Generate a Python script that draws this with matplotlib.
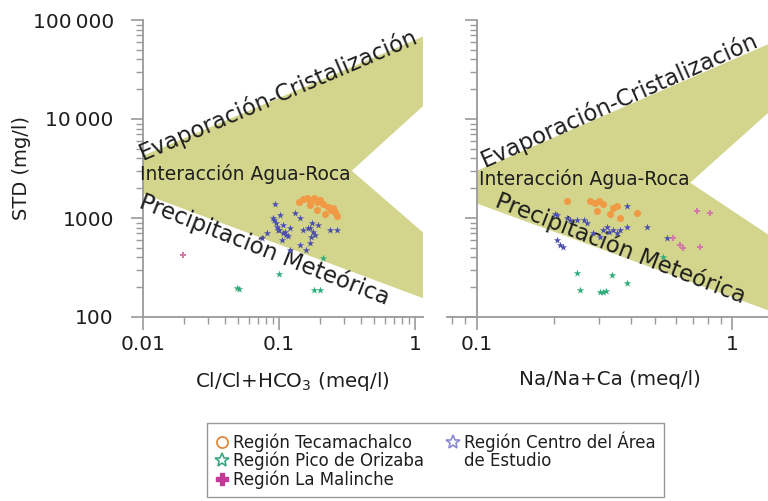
import matplotlib
matplotlib.use("Agg")
from matplotlib import pyplot as plt
from matplotlib.lines import Line2D

plt.rcParams['font.family'] = ['DejaVu Sans']
plt.rcParams['mathtext.fontset'] = 'dejavusans'

# ---- data ----
# left panel: Cl/(Cl+HCO3) vs STD
tec_l_x = [0.14, 0.15, 0.16, 0.17, 0.18, 0.19, 0.20, 0.21, 0.17, 0.23, 0.25, 0.26, 0.27, 0.24, 0.22, 0.19]
tec_l_y = [1450, 1550, 1600, 1500, 1580, 1450, 1520, 1400, 1350, 1300, 1250, 1150, 1050, 1200, 1100, 1200]
cen_l_x = [0.093, 0.090, 0.095, 0.102, 0.107, 0.098, 0.111, 0.116, 0.120, 0.105, 0.143, 0.150, 0.163,
           0.175, 0.184, 0.169, 0.158, 0.194, 0.237, 0.267, 0.082, 0.075, 0.131, 0.143, 0.120,
           0.092, 0.097, 0.100, 0.108, 0.113, 0.170, 0.178, 0.172]
cen_l_y = [1400, 990, 900, 1060, 840, 748, 715, 652, 784, 594, 1010, 748, 784,
           900, 667, 554, 471, 840, 748, 748, 698, 622, 1136, 530, 471,
           950, 820, 760, 700, 680, 800, 720, 640]
pic_l_x = [0.049, 0.051, 0.10, 0.18, 0.20, 0.21]
pic_l_y = [196, 192, 270, 186, 188, 390]
mal_l_x = [0.0197]
mal_l_y = [420]

# right panel: Na/(Na+Ca) vs STD
tec_r_x = [0.225, 0.277, 0.29, 0.30, 0.312, 0.341, 0.354, 0.332, 0.364, 0.424, 0.296]
tec_r_y = [1500, 1500, 1420, 1480, 1400, 1275, 1336, 1110, 1010, 1136, 1190]
cen_r_x = [0.206, 0.225, 0.232, 0.247, 0.27, 0.262, 0.323, 0.341, 0.364, 0.387, 0.354,
           0.285, 0.304, 0.206, 0.211, 0.217, 0.202, 0.387, 0.464, 0.556, 0.31, 0.33]
cen_r_y = [1060, 990, 944, 944, 881, 960, 803, 748, 748, 803, 698,
           698, 637, 594, 530, 506, 1110, 1336, 803, 622, 760, 720]
pic_r_x = [0.247, 0.338, 0.253, 0.304, 0.312, 0.32, 0.387, 0.536]
pic_r_y = [277, 264, 187, 178, 178, 185, 220, 401]
mal_r_x = [0.729, 0.82, 0.587, 0.625, 0.643, 0.75]
mal_r_y = [1190, 1136, 622, 530, 494, 506]

# chevron shaped fields (evaporation / water-rock / rain)
band_l_x = [0.01, 1.15, 1.15, 0.344, 1.15, 1.15, 0.01]
band_l_y = [4250, 68000, 13500, 3000, 715, 155, 1760]
band_r_x = [0.1, 1.38, 1.38, 0.684, 1.38, 1.38, 0.1]
band_r_y = [3000, 56800, 11500, 2275, 682, 117, 1400]

BAND = '#d3d58c'
TXT = '#1e1e1e'
AXC = '#9a9a9a'
C_TEC = '#f19a45'
C_CEN = '#4c4fae'
C_PIC = '#2fae7c'
C_MAL = '#d27aa8'

fig = plt.figure(figsize=(7.68, 5.01), dpi=100)
ax1 = fig.add_axes([143 / 768, 184 / 501, 280 / 768, 297 / 501])
ax2 = fig.add_axes([447 / 768, 184 / 501, 321 / 768, 297 / 501])

for ax in (ax1, ax2):
    ax.set_xscale('log')
    ax.set_yscale('log')
    ax.set_ylim(100, 100000)
    ax.spines['top'].set_visible(False)
    ax.spines['right'].set_visible(False)
    for side in ('left', 'bottom'):
        ax.spines[side].set_color(AXC)
        ax.spines[side].set_linewidth(1.3)
    ax.tick_params(which='major', length=9, width=1.2, color=AXC, direction='out',
                   labelsize=14.5, labelcolor=TXT)
    ax.tick_params(which='minor', length=5, width=1.0, color=AXC, direction='out')
    ax.tick_params(axis='x', which='major', pad=4)

ax1.set_xlim(0.01, 1.15)
ax2.set_xlim(0.0762, 1.38)
ax2.spines['left'].set_position(('data', 0.1))

ax1.fill(band_l_x, band_l_y, color=BAND, lw=0, zorder=0)
ax2.fill(band_r_x, band_r_y, color=BAND, lw=0, zorder=0)

ax1.set_yticks([100, 1000, 10000, 100000])
ax1.set_yticklabels(['100', '1000', '10\u2009000', '100\u2009000'])
ax1.tick_params(axis='y', which='major', pad=12)
ax2.set_yticks([100, 1000, 10000, 100000])
ax2.set_yticklabels([])
ax1.set_xticks([0.01, 0.1, 1])
ax1.set_xticklabels(['0.01', '0.1', '1'])
ax2.set_xticks([0.1, 1])
ax2.set_xticklabels(['0.1', '1'])

ax1.set_ylabel('STD (mg/l)', fontsize=14, color=TXT)
ax1.yaxis.set_label_coords(-0.40, 0.5)
ax1.set_xlabel('Cl/Cl+HCO$_3$ (meq/l)', fontsize=14.3, color=TXT)
ax2.set_xlabel('Na/Na+Ca (meq/l)', fontsize=14.3, color=TXT)
ax1.xaxis.set_label_coords(0.532, -0.178)
ax2.xaxis.set_label_coords(0.508, -0.178)

def draw_points(ax, tx, ty, cx, cy, px, py, mx, my):
    ax.scatter(tx, ty, s=26, marker='o', color=C_TEC, lw=0, zorder=3)
    ax.scatter(cx, cy, s=30, marker='*', color=C_CEN, lw=0, zorder=4)
    ax.scatter(px, py, s=32, marker='*', color=C_PIC, lw=0, zorder=3)
    ax.scatter(mx, my, s=24, marker='P', color=C_MAL, lw=0, zorder=3)

draw_points(ax1, tec_l_x, tec_l_y, cen_l_x, cen_l_y, pic_l_x, pic_l_y, mal_l_x, mal_l_y)
draw_points(ax2, tec_r_x, tec_r_y, cen_r_x, cen_r_y, pic_r_x, pic_r_y, mal_r_x, mal_r_y)

# field names
ax1.text(0.482, 0.747, 'Evaporación-Cristalización', transform=ax1.transAxes, rotation=23.2,
         ha='center', va='center', fontsize=16.4, color=TXT, rotation_mode='anchor')
ax1.text(-0.01, 0.482, 'Interacción Agua-Roca', transform=ax1.transAxes,
         ha='left', va='center', fontsize=13.5, color=TXT)
ax1.text(0.435, 0.225, 'Precipitación Meteórica', transform=ax1.transAxes, rotation=-21.5,
         ha='center', va='center', fontsize=16.5, color=TXT, rotation_mode='anchor')

ax2.text(0.536, 0.73, 'Evaporación-Cristalización', transform=ax2.transAxes, rotation=23.9,
         ha='center', va='center', fontsize=16.4, color=TXT, rotation_mode='anchor')
ax2.text(0.1, 0.465, 'Interacción Agua-Roca', transform=ax2.transAxes,
         ha='left', va='center', fontsize=13.5, color=TXT)
ax2.text(0.54, 0.232, 'Precipitación Meteórica', transform=ax2.transAxes, rotation=-21.4,
         ha='center', va='center', fontsize=16.5, color=TXT, rotation_mode='anchor')

blank = Line2D([], [], ls='', marker='')
handles = [
    Line2D([], [], ls='', marker='o', ms=8, mfc='none', mec='#e0893a', mew=1.3),
    Line2D([], [], ls='', marker='*', ms=10, mfc='none', mec='#3aa57f', mew=1.2),
    Line2D([], [], ls='', marker='P', ms=9, mfc='#c23a98', mec='#c23a98'),
    Line2D([], [], ls='', marker='*', ms=10, mfc='none', mec='#8a8ad2', mew=1.2),
    blank,
    blank,
]
labels = ['Región Tecamachalco', 'Región Pico de Orizaba', 'Región La Malinche',
          'Región Centro del Área', 'de Estudio', '']
leg = fig.legend(handles, labels, ncol=2, loc='center', bbox_to_anchor=(0.567, 0.082),
                 fontsize=12, frameon=True, fancybox=False, edgecolor='#808080',
                 handlelength=0.8, handletextpad=0.3, columnspacing=1.3,
                 labelspacing=0.0, borderpad=0.5, borderaxespad=0)
leg.get_frame().set_linewidth(1.0)
for t in leg.get_texts():
    t.set_color(TXT)

fig.savefig('out.png', dpi=100)
